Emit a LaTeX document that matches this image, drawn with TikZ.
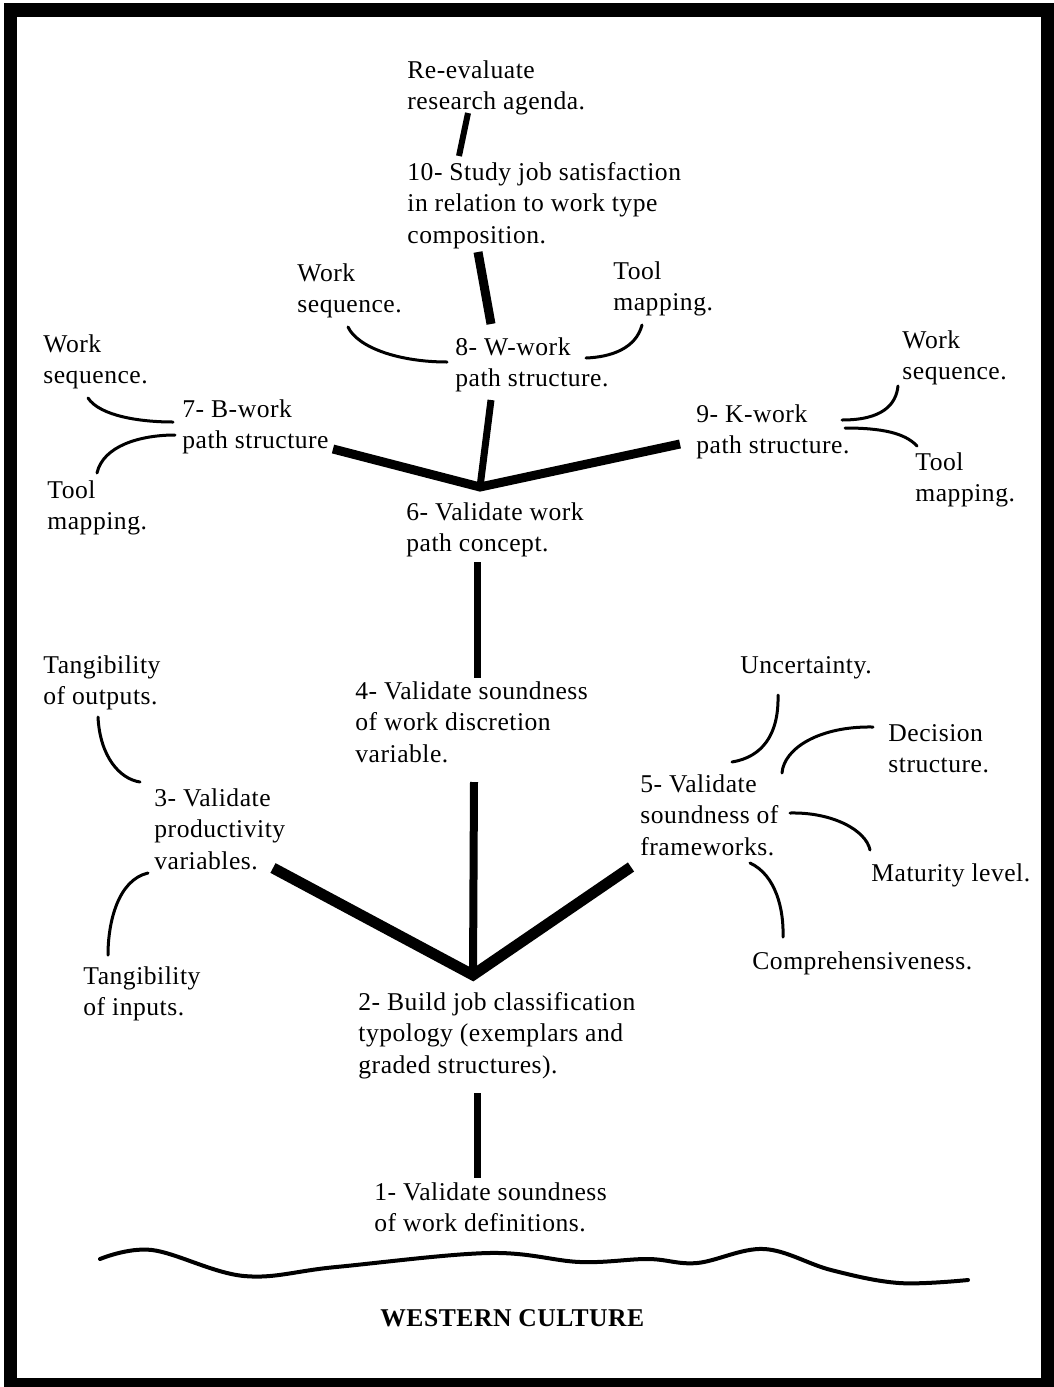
\documentclass[tikz,border=0pt]{standalone}
\usepackage{fontspec}
\setmainfont{Liberation Serif}[LetterSpace=2]
\begin{document}
\begin{tikzpicture}[x=0.5pt,y=-0.5pt,
  lbl/.style={font=\fontsize{12.8}{15.8}\selectfont, align=left, inner sep=0pt,
    anchor=north west, yshift=9.06pt, execute at begin node=\strut},
  stem/.style={line width=3.5pt},
  limb/.style={line width=5.5pt, line join=miter},
  twig/.style={line width=1.5pt, line cap=round},
  ground/.style={line width=2pt, line cap=round, line join=round}]
\useasboundingbox (0,0) rectangle (1054,1387);
% heavy frame
\fill[black] (4,3) rectangle (1054,1387);
\fill[white] (17,17) rectangle (1041,1378);

% ---- text blocks (positions are left edge / first baseline)
\node[lbl] (re)   at (407,78)  {Re-evaluate\\research agenda.};
\node[lbl] (s10)  at (407,180) {10- Study job satisfaction\\in relation to work type\\composition.};
\node[lbl] (ws8)  at (297,281) {Work\\sequence.};
\node[lbl] (tm8)  at (613,279) {Tool\\mapping.};
\node[lbl] (s8)   at (455,355) {8- W-work\\path structure.};
\node[lbl] (ws7)  at (43,352)  {Work\\sequence.};
\node[lbl] (s7)   at (182,417) {7- B-work\\path structure};
\node[lbl] (tm7)  at (47,498)  {Tool\\mapping.};
\node[lbl] (s9)   at (696,422) {9- K-work\\path structure.};
\node[lbl] (ws9)  at (902,348) {Work\\sequence.};
\node[lbl] (tm9)  at (915,470) {Tool\\mapping.};
\node[lbl] (s6)   at (406,520) {6- Validate work\\path concept.};
\node[lbl] (tout) at (43,673)  {Tangibility\\of outputs.};
\node[lbl] (s4)   at (355,699) {4- Validate soundness\\of work discretion\\variable.};
\node[lbl] (unc)  at (740,669) {Uncertainty.};
\node[lbl] (dec)  at (888,742) {Decision\\structure.};
\node[lbl] (s3)   at (154,806) {3- Validate\\productivity\\variables.};
\node[lbl] (s5)   at (640,792) {5- Validate\\soundness of\\frameworks.};
\node[lbl] (mat)  at (871,877) {Maturity level.};
\node[lbl] (comp) at (752,965) {Comprehensiveness.};
\node[lbl] (tin)  at (83,984)  {Tangibility\\of inputs.};
\node[lbl] (s2)   at (358,1010) {2- Build job classification\\typology (exemplars and\\graded structures).};
\node[lbl] (s1)   at (374,1200) {1- Validate soundness\\of work definitions.};
\node[lbl, font=\fontsize{12.8}{15.8}\selectfont\bfseries] (wc) at (380,1322) {WESTERN CULTURE};

% ---- connector end points
\coordinate (reB)  at (468,113);
\coordinate (s10T) at (459,156);
\coordinate (s10B) at (478,252);
\coordinate (s8T)  at (491,324);
\coordinate (s8B)  at (491,400);
\coordinate (j6)   at (480,487);
\coordinate (s7E)  at (333,449);
\coordinate (s9W)  at (680,444);
\coordinate (s6B)  at (477,562);
\coordinate (s4T)  at (477,678);
\coordinate (s4B)  at (474,782);
\coordinate (j2)   at (473,975);
\coordinate (s3E)  at (273,868);
\coordinate (s5W)  at (631,867);
\coordinate (s2B)  at (477,1093);
\coordinate (s1T)  at (477,1178);

% ---- trunk and branches
\draw[line width=3pt] (reB) -- (s10T);
\draw[line width=4.5pt] (s10B) -- (s8T);
\draw[line width=3.5pt] (s8B) -- (j6);
\draw[line width=4.5pt, line join=miter] (s7E) -- (j6) -- (s9W);
\draw[stem] (s6B) -- (s4T);
\draw[line width=4pt] (s4B) -- (j2);
\draw[limb] (s3E) -- (j2) -- (s5W);
\draw[stem] (s2B) -- (s1T);

% ---- attribute twigs
\coordinate (a8ws) at (348,327); \coordinate (b8ws) at (447,362);
\coordinate (a8tm) at (642,325); \coordinate (b8tm) at (586,358);
\coordinate (a7ws) at (88,398);  \coordinate (b7ws) at (173,422);
\coordinate (a7tm) at (97,473);  \coordinate (b7tm) at (175,435);
\coordinate (a9ws) at (898,386); \coordinate (b9ws) at (842,420);
\coordinate (a9tm) at (917,446); \coordinate (b9tm) at (845,428);
\coordinate (aout) at (98,717);  \coordinate (bout) at (140,782);
\coordinate (ain)  at (108,955); \coordinate (bin)  at (148,873);
\coordinate (aunc) at (778,695); \coordinate (bunc) at (732,762);
\coordinate (adec) at (873,727); \coordinate (bdec) at (782,773);
\coordinate (amat) at (870,850); \coordinate (bmat) at (790,813);
\coordinate (acmp) at (783,937); \coordinate (bcmp) at (750,863);

\draw[twig] (a8ws) .. controls (358,348) and (400,362) .. (b8ws);
\draw[twig] (a8tm) .. controls (636,348) and (612,357) .. (b8tm);
\draw[twig] (a7ws) .. controls (100,416) and (140,422) .. (b7ws);
\draw[twig] (a7tm) .. controls (103,446) and (140,435) .. (b7tm);
\draw[twig] (b9ws) .. controls (882,420) and (896,405) .. (a9ws);
\draw[twig] (b9tm) .. controls (882,428) and (905,433) .. (a9tm);
\draw[twig] (aout) .. controls (100,757) and (120,779) .. (bout);
\draw[twig] (bin)  .. controls (118,880) and (108,922) .. (ain);
\draw[twig] (aunc) .. controls (779,735) and (762,757) .. (bunc);
\draw[twig] (adec) .. controls (820,726) and (784,748) .. (bdec);
\draw[twig] (bmat) .. controls (832,812) and (866,830) .. (amat);
\draw[twig] (bcmp) .. controls (776,875) and (784,910) .. (acmp);

% ---- ground line
\draw[ground] plot[smooth, tension=0.6] coordinates {
  (100,1259) (152,1250) (244,1276) (336,1267) (489,1253) (580,1262)
  (648,1259) (697,1263) (764,1249) (831,1270) (899,1283) (968,1280)};
\end{tikzpicture}
\end{document}
